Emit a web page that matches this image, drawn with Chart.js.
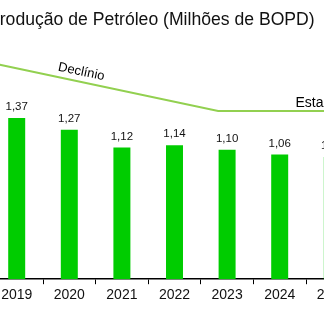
<!DOCTYPE html>
<html>
<head>
<meta charset="utf-8">
<script src="https://cdn.jsdelivr.net/npm/chart.js@4.4.1/dist/chart.umd.min.js"></script>
<style>
  html, body { margin: 0; padding: 0; background: #fff; overflow: hidden; }
  #wrap { position: absolute; left: -20px; top: 0; width: 400px; height: 333px; }
</style>
</head>
<body>
<div id="wrap"><canvas id="c" width="400" height="333"></canvas></div>
<script>
const years = ['2019', '2020', '2021', '2022', '2023', '2024', '2025'];
const production = [1.37, 1.27, 1.12, 1.14, 1.10, 1.06, 1.04];
// trend line (x in category-index units, y in BOPD millions)
const trendX = [-0.5, 3.83, 6.5];
const trendY = [1.84, 1.43, 1.43];
const titleText = 'Produção de Petróleo (Milhões de BOPD)';
const phaseLabels = ['Declínio', 'Estabilidade'];

const FONT = '"Liberation Sans", Arial, sans-serif';

const labelsPlugin = {
  id: 'valueLabels',
  afterDatasetsDraw(chart) {
    const ctx = chart.ctx;
    const meta = chart.getDatasetMeta(0);
    ctx.save();
    ctx.font = '11.5px ' + FONT;
    ctx.fillStyle = '#111';
    ctx.textAlign = 'center';
    ctx.textBaseline = 'middle';
    meta.data.forEach((bar, i) => {
      ctx.fillText(production[i].toFixed(2).replace('.', ','), bar.x, bar.y - 11);
    });
    // phase annotations
    const xs = chart.scales.x2, ys = chart.scales.y;
    const p0x = xs.getPixelForValue(trendX[0]), p0y = ys.getPixelForValue(trendY[0]);
    const p1x = xs.getPixelForValue(trendX[1]), p1y = ys.getPixelForValue(trendY[1]);
    const ang = Math.atan2(p1y - p0y, p1x - p0x);
    const t = 0.39;
    const cx = p0x + (p1x - p0x) * t, cy = p0y + (p1y - p0y) * t;
    ctx.save();
    ctx.translate(cx, cy);
    ctx.rotate(ang);
    ctx.font = '13px ' + FONT;
    ctx.fillStyle = '#000';
    ctx.textAlign = 'center';
    ctx.textBaseline = 'middle';
    ctx.fillText(phaseLabels[0], 0, -10);
    ctx.restore();
    ctx.font = '14px ' + FONT;
    ctx.fillStyle = '#000';
    ctx.textAlign = 'left';
    ctx.textBaseline = 'middle';
    const ey = ys.getPixelForValue(trendY[2]);
    ctx.fillText(phaseLabels[1], xs.getPixelForValue(5.3), ey - 8);
    ctx.restore();
  }
};

new Chart(document.getElementById('c'), {
  type: 'bar',
  data: {
    labels: years,
    datasets: [
      {
        type: 'bar',
        data: production,
        backgroundColor: '#00CC00',
        borderWidth: 0,
        grouped: false,
        categoryPercentage: 1,
        barPercentage: 0.323,
        order: 2
      },
      {
        type: 'line',
        xAxisID: 'x2',
        data: trendX.map((x, i) => ({ x: x, y: trendY[i] })),
        borderColor: '#92D050',
        borderWidth: 2,
        pointRadius: 0,
        fill: false,
        tension: 0,
        order: 1
      }
    ]
  },
  options: {
    responsive: false,
    animation: false,
    layout: { padding: { left: 8, right: 21.4, top: 0, bottom: 26 } },
    plugins: {
      legend: { display: false },
      tooltip: { enabled: false },
      title: {
        display: true,
        text: titleText,
        align: 'start',
        color: '#111',
        font: { family: FONT, size: 17.6, weight: 'normal' },
        padding: { top: 9.2, bottom: 13.7 }
      }
    },
    scales: {
      x: {
        type: 'category',
        offset: true,
        grid: { display: true, drawOnChartArea: false, drawTicks: true, tickLength: 5, color: '#000', offset: true },
        border: { display: true, color: '#000', width: 1.5 },
        ticks: { color: '#111', font: { family: FONT, size: 14 }, padding: 3, maxRotation: 0, autoSkip: false }
      },
      x2: { type: 'linear', display: false, offset: false, min: -0.5, max: 6.5 },
      y: {
        display: true, min: 0, max: 2,
        grid: { display: false }, border: { display: false }, ticks: { display: false },
        afterFit(scale) { scale.width = 2.4; }
      }
    }
  },
  plugins: [labelsPlugin]
});
</script>
</body>
</html>
